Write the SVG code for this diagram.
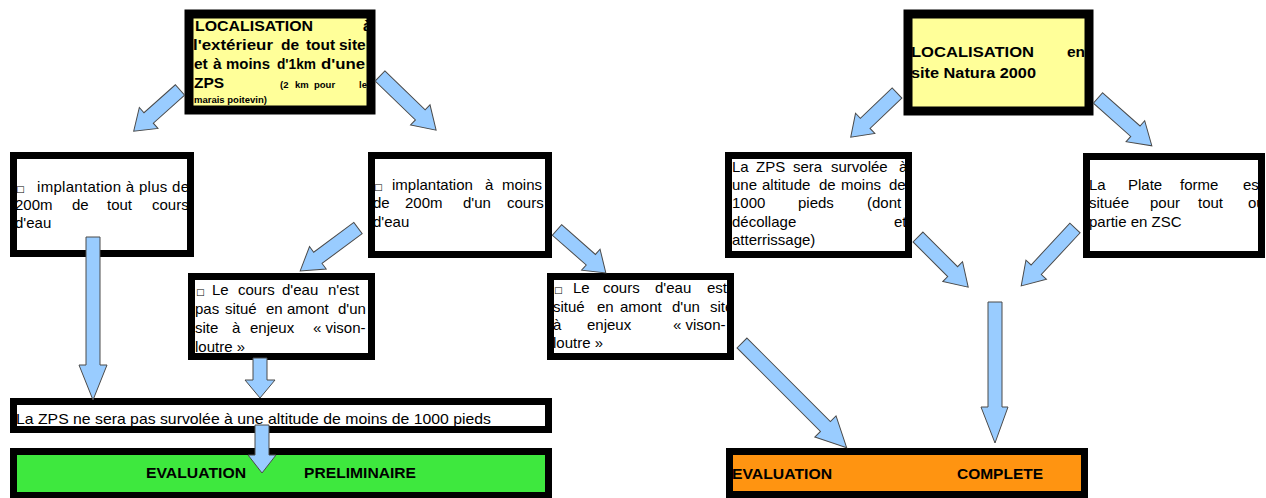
<svg xmlns="http://www.w3.org/2000/svg" width="1266" height="498" viewBox="0 0 1266 498">
<style>
text{font-family:"Liberation Sans",Arial,sans-serif;fill:#000}
.t{font-size:15px}
.b{font-size:15.5px;font-weight:bold}
.s{font-size:9.5px;font-weight:bold}
.q{font-size:9px;font-family:"DejaVu Sans",sans-serif}
.fillY{fill:#ffff99}
.fillW{fill:#fff}
.frame{fill:none;stroke:#000;stroke-width:7}
.frameT{fill:none;stroke:#000;stroke-width:9}
.arr{fill:#99ccff;stroke:#4a4a4a;stroke-width:1;stroke-linejoin:miter}
</style>
<rect width="1266" height="498" fill="#fff"/>

<g id="n1">
<rect class="fillY" x="189" y="14" width="182" height="96"/>
<text class="b" y="31"><tspan x="195" textLength="118" lengthAdjust="spacingAndGlyphs">LOCALISATION</tspan><tspan x="363">à</tspan></text>
<text class="b" y="50"><tspan x="193" textLength="80" lengthAdjust="spacingAndGlyphs">l'extérieur</tspan><tspan x="281">de</tspan><tspan x="306" textLength="29" lengthAdjust="spacingAndGlyphs">tout</tspan><tspan x="339">site</tspan></text>
<text class="b" y="69"><tspan x="194">et</tspan><tspan x="213">à</tspan><tspan x="226" textLength="44" lengthAdjust="spacingAndGlyphs">moins</tspan><tspan x="277" textLength="39" lengthAdjust="spacingAndGlyphs">d'1km</tspan><tspan x="321" textLength="44" lengthAdjust="spacingAndGlyphs">d'une</tspan></text>
<text y="88"><tspan class="b" x="194">ZPS</tspan><tspan class="s" x="280">(2</tspan><tspan class="s" x="295">km</tspan><tspan class="s" x="314">pour</tspan><tspan class="s" x="359">le</tspan></text>
<text class="s" x="194" y="103">marais poitevin)</text>
<rect class="frameT" x="189" y="14" width="182" height="96"/>
</g>

<g id="n2">
<rect class="fillY" x="908" y="14" width="181" height="97"/>
<text class="b" y="57"><tspan x="911" textLength="123" lengthAdjust="spacingAndGlyphs">LOCALISATION</tspan><tspan x="1067">en</tspan></text>
<text class="b" x="911" y="78" textLength="125" lengthAdjust="spacingAndGlyphs">site Natura 2000</text>
<rect class="frameT" x="908" y="14" width="181" height="97"/>
</g>

<g id="n3">
<rect class="fillW" x="13.5" y="155.5" width="177" height="98"/>
<text class="t" y="192"><tspan class="q" x="16">□</tspan><tspan x="37" textLength="152" lengthAdjust="spacing">implantation à plus de</tspan></text>
<text class="t" y="210"><tspan x="15">200m</tspan><tspan x="72">de</tspan><tspan x="107">tout</tspan><tspan x="152">cours</tspan></text>
<text class="t" x="15" y="228">d'eau</text>
<rect class="frame" x="13.5" y="155.5" width="177" height="98"/>
</g>

<g id="n4">
<rect class="fillW" x="371.5" y="155.5" width="177" height="99"/>
<text class="t" y="190"><tspan class="q" x="374">□</tspan><tspan x="392">implantation</tspan><tspan x="485">à</tspan><tspan x="502">moins</tspan></text>
<text class="t" y="208"><tspan x="373">de</tspan><tspan x="405">200m</tspan><tspan x="463">d'un</tspan><tspan x="507">cours</tspan></text>
<text class="t" x="373" y="227">d'eau</text>
<rect class="frame" x="371.5" y="155.5" width="177" height="99"/>
</g>

<g id="n5">
<rect class="fillW" x="728.5" y="155.5" width="180" height="99"/>
<text class="t" y="172"><tspan x="732">La</tspan><tspan x="756">ZPS</tspan><tspan x="793">sera</tspan><tspan x="831">survolée</tspan><tspan x="899">à</tspan></text>
<text class="t" y="190"><tspan x="732">une</tspan><tspan x="762">altitude</tspan><tspan x="819">de</tspan><tspan x="841">moins</tspan><tspan x="889">de</tspan></text>
<text class="t" y="208"><tspan x="732">1000</tspan><tspan x="798">pieds</tspan><tspan x="867">(dont</tspan></text>
<text class="t" y="227"><tspan x="732">décollage</tspan><tspan x="894">et</tspan></text>
<text class="t" x="732" y="245">atterrissage)</text>
<rect class="frame" x="728.5" y="155.5" width="180" height="99"/>
</g>

<g id="n6">
<rect class="fillW" x="1086.5" y="156.5" width="175" height="98"/>
<text class="t" y="190"><tspan x="1089">La</tspan><tspan x="1128">Plate</tspan><tspan x="1180">forme</tspan><tspan x="1243">est</tspan></text>
<text class="t" y="208"><tspan x="1089">située</tspan><tspan x="1150">pour</tspan><tspan x="1198">tout</tspan><tspan x="1248">ou</tspan></text>
<text class="t" x="1089" y="227">partie en ZSC</text>
<rect class="frame" x="1086.5" y="156.5" width="175" height="98"/>
</g>

<g id="n7">
<rect class="fillW" x="191.5" y="276.5" width="180" height="80"/>
<text class="t" y="295"><tspan class="q" x="196">□</tspan><tspan x="212">Le</tspan><tspan x="238">cours</tspan><tspan x="282">d'eau</tspan><tspan x="328">n'est</tspan></text>
<text class="t" y="314"><tspan x="195">pas</tspan><tspan x="225">situé</tspan><tspan x="266">en</tspan><tspan x="287">amont</tspan><tspan x="338">d'un</tspan></text>
<text class="t" y="333"><tspan x="195">site</tspan><tspan x="232">à</tspan><tspan x="250">enjeux</tspan><tspan x="313">« vison-</tspan></text>
<text class="t" x="195" y="352">loutre »</text>
<rect class="frame" x="191.5" y="276.5" width="180" height="80"/>
</g>

<g id="n8">
<rect class="fillW" x="550.5" y="276.5" width="180" height="80"/>
<text class="t" y="293"><tspan class="q" x="554">□</tspan><tspan x="573">Le</tspan><tspan x="603">cours</tspan><tspan x="655">d'eau</tspan><tspan x="707">est</tspan></text>
<text class="t" y="312"><tspan x="553">situé</tspan><tspan x="597">en</tspan><tspan x="620">amont</tspan><tspan x="672">d'un</tspan><tspan x="710">site</tspan></text>
<text class="t" y="330"><tspan x="553">à</tspan><tspan x="587">enjeux</tspan><tspan x="673">« vison-</tspan></text>
<text class="t" x="553" y="348">loutre »</text>
<rect class="frame" x="550.5" y="276.5" width="180" height="80"/>
</g>

<g id="n9">
<rect class="fillW" x="13.5" y="401.5" width="535" height="28"/>
<text class="t" x="16" y="424" textLength="475" lengthAdjust="spacingAndGlyphs">La ZPS ne sera pas survolée à une altitude de moins de 1000 pieds</text>
<rect class="frame" x="13.5" y="401.5" width="535" height="28"/>
</g>

<g id="n10">
<rect x="13.5" y="451.5" width="535" height="44" fill="#3ee83e"/>
<text class="b" y="478"><tspan x="146" textLength="100" lengthAdjust="spacingAndGlyphs">EVALUATION</tspan><tspan x="304" textLength="112" lengthAdjust="spacingAndGlyphs">PRELIMINAIRE</tspan></text>
<rect class="frame" x="13.5" y="451.5" width="535" height="44"/>
</g>

<g id="n11">
<rect x="729.5" y="451.5" width="355" height="43" fill="#ff9411"/>
<text class="b" y="479"><tspan x="732" textLength="100" lengthAdjust="spacingAndGlyphs">EVALUATION</tspan><tspan x="957" textLength="86" lengthAdjust="spacingAndGlyphs">COMPLETE</tspan></text>
<rect class="frame" x="729.5" y="451.5" width="355" height="43"/>
</g>

<g id="connectors">
<path class="arr" transform="translate(180,90) rotate(138.3)" d="M0,-7 L42,-7 L42,-14 L62,0 L42,14 L42,7 L0,7 Z"/>
<path class="arr" transform="translate(380,76) rotate(44)" d="M0,-7 L56,-7 L56,-14 L78,0 L56,14 L56,7 L0,7 Z"/>
<path class="arr" transform="translate(358,228) rotate(143.4)" d="M0,-7 L50,-7 L50,-14 L72,0 L50,14 L50,7 L0,7 Z"/>
<path class="arr" transform="translate(557,230) rotate(41.3)" d="M0,-7 L45,-7 L45,-14 L65,0 L45,14 L45,7 L0,7 Z"/>
<path class="arr" transform="translate(897,93) rotate(136.3)" d="M0,-7 L44,-7 L44,-14 L64,0 L44,14 L44,7 L0,7 Z"/>
<path class="arr" transform="translate(1098,98) rotate(41.6)" d="M0,-7 L50,-7 L50,-14 L72,0 L50,14 L50,7 L0,7 Z"/>
<path class="arr" transform="translate(918,237) rotate(45)" d="M0,-7 L49,-7 L49,-14 L71,0 L49,14 L49,7 L0,7 Z"/>
<path class="arr" transform="translate(1075,228) rotate(132.9)" d="M0,-7 L57,-7 L57,-14 L79,0 L57,14 L57,7 L0,7 Z"/>
<path class="arr" transform="translate(742,343) rotate(45)" d="M0,-7 L118,-7 L118,-15 L148,0 L118,15 L118,7 L0,7 Z"/>
<path class="arr" d="M86,237 H100 V365 H107 L93,400 L79,365 H86 Z"/>
<path class="arr" d="M253,358 H267 V380 H275 L260,398 L245,380 H253 Z"/>
<path class="arr" d="M255,425 H269 V455 H276 L262,473 L248,455 H255 Z"/>
<path class="arr" d="M988,302 H1002 V407 H1008 L995,443 L981,407 H988 Z"/>
</g>
</svg>
